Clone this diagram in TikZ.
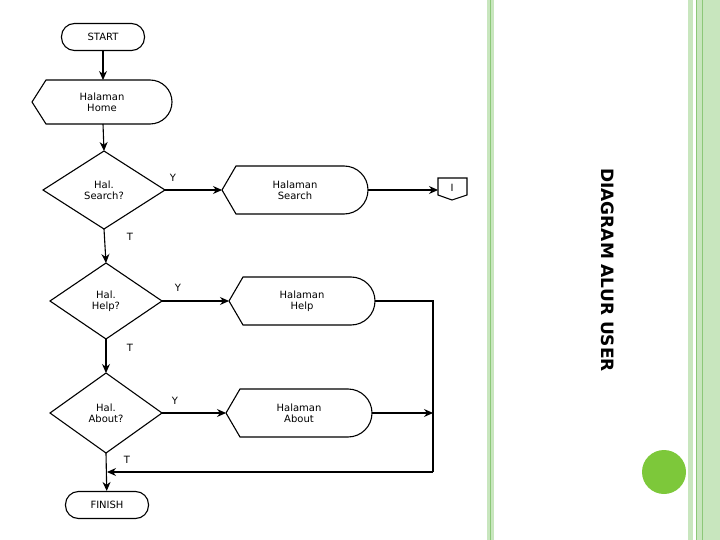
\documentclass[tikz,border=0pt]{standalone}
\usepackage{fontspec}
\setmainfont{DejaVu Sans}
\usetikzlibrary{arrows.meta,calc}
\definecolor{lgreen}{HTML}{C8E6BE}
\definecolor{mgreen}{HTML}{8CC878}
\definecolor{dotgreen}{HTML}{7DC83A}
\tikzstyle{flow}=[x=1pt,y=-1pt,font=\fontsize{10}{11}\selectfont,line width=1.1pt]
\tikzstyle{term}=[draw,rounded corners=13pt,minimum width=83pt,minimum height=27pt]
\tikzstyle{line}=[-{Stealth[length=9pt,width=8pt]}]
\newcommand{\dispshape}[3]{% center, half width, half height
  \draw ($(#1)+(-#2,0)$) -- ($(#1)+(-#2+14,-#3)$) -- ($(#1)+(#2-#3,-#3)$)
    arc[start angle=-90,end angle=90,radius=#3] -- ($(#1)+(-#2+14,#3)$) -- cycle;}
\newcommand{\decision}[3]{%
  \draw ($(#1)+(-#2,0)$) -- ($(#1)+(0,-#3)$) -- ($(#1)+(#2,0)$) -- ($(#1)+(0,#3)$) -- cycle;}

\begin{document}
\begin{tikzpicture}[style=flow]
\useasboundingbox (0,0) rectangle (720,540);
% side bands
\fill[lgreen] (487,0) rectangle (494,540);
\draw[mgreen,thick] (490,0) -- (490,540);
\fill[lgreen] (688,0) rectangle (693,540);
\fill[lgreen] (697,0) rectangle (720,540);
\draw[mgreen,thick] (696,0) -- (696,540);
\draw[mgreen,thin] (702,0) -- (702,540);
\fill[dotgreen] (664,472) circle (22);
\node[rotate=-90,font=\fontsize{17}{17}\bfseries\selectfont] at (608,270) {DIAGRAM ALUR USER};

% nodes
\node[term] (start) at (103,37) {START};
\coordinate (home) at (102,102);
\dispshape{home}{70}{22}
\node[align=center] at (home) {Halaman\\Home};
\coordinate (qsearch) at (104,190);
\decision{qsearch}{61}{39}
\node[align=center] at (qsearch) {Hal.\\Search?};
\coordinate (search) at (295,190);
\dispshape{search}{73}{24}
\node[align=center] at (search) {Halaman\\Search};
\coordinate (qhelp) at (106,301);
\decision{qhelp}{56}{38}
\node[align=center] at (qhelp) {Hal.\\Help?};
\coordinate (help) at (302,301);
\dispshape{help}{73}{24}
\node[align=center] at (help) {Halaman\\Help};
\coordinate (qabout) at (106,413);
\decision{qabout}{56}{40}
\node[align=center] at (qabout) {Hal.\\About?};
\coordinate (about) at (299,413);
\dispshape{about}{73}{24}
\node[align=center] at (about) {Halaman\\About};
\node[term] (finish) at (107,505) {FINISH};
\draw (438,178) -- (467,178) -- (467,195) -- (452,200) -- (438,195) -- cycle;
\node (conn) at (452,188) {I};

% connectors
\draw[line] (start) -- (103,80);
\draw[line] (103,124) -- (104,151);
\draw[line] (165,190) -- (222,190);
\draw[line] (368,190) -- (438,190);
\draw[line] (104,229) -- (106,263);
\draw[line] (162,301) -- (229,301);
\draw[line] (106,339) -- (106,373);
\draw[line] (162,413) -- (226,413);
\draw (375,301) -| (433,472);
\draw[line] (372,413) -- (433,413);
\draw[line] (433,472) -- (107,472);
\draw[line] (106,453) -- (finish);

% labels
\node at (173,178) {Y};
\node at (178,288) {Y};
\node at (175,401) {Y};
\node at (130,237) {T};
\node at (130,348) {T};
\node at (127,460) {T};
\end{tikzpicture}
\end{document}
